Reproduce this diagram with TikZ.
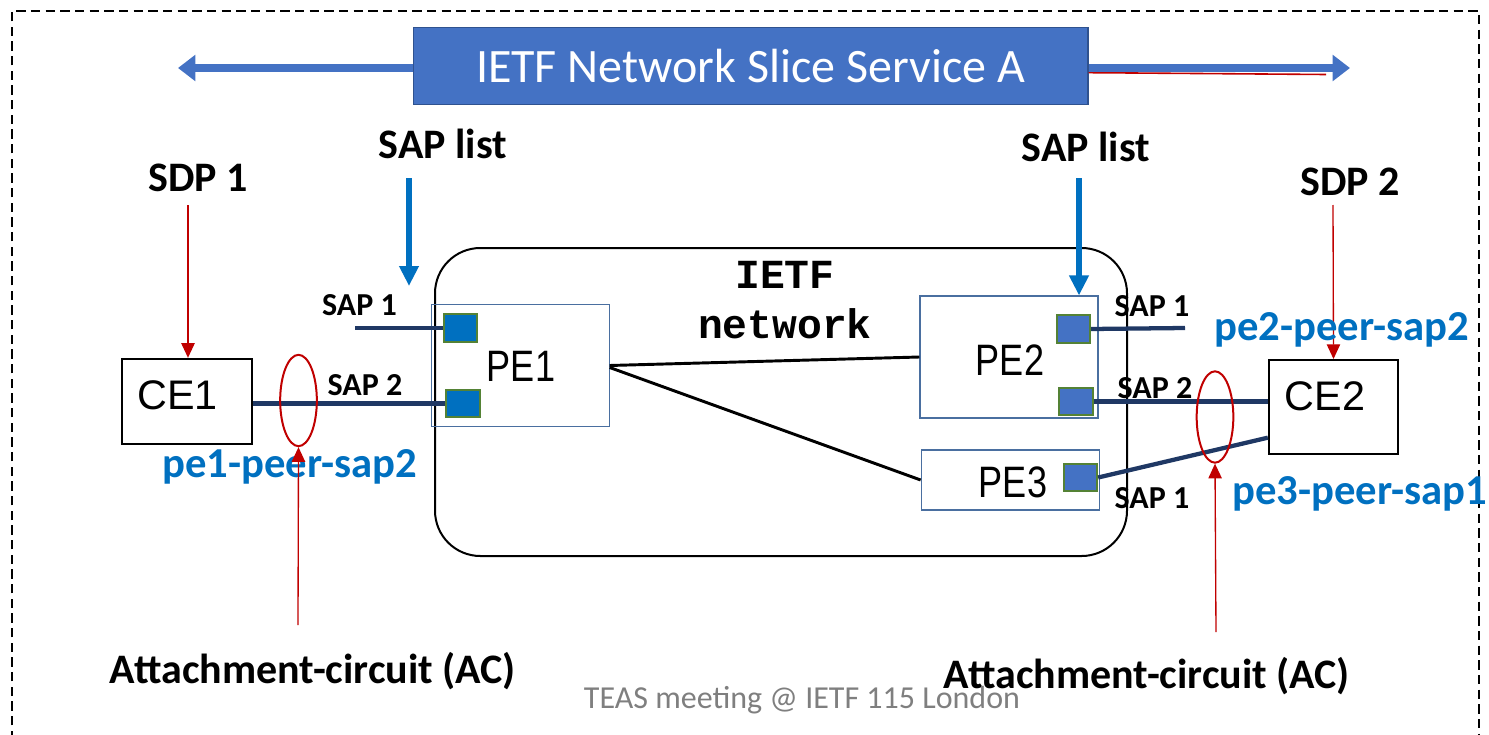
\documentclass[tikz,border=0pt]{standalone}
\usepackage{fontspec}
\setmainfont{Carlito}
\newfontfamily\boxfont{Liberation Sans}
\newfontfamily\pefont[FakeStretch=0.82]{Liberation Sans}
\newfontfamily\netfont{Liberation Mono}
\usetikzlibrary{arrows.meta,shapes.geometric}
\definecolor{banner}{HTML}{4472C4}
\definecolor{bannerline}{HTML}{2F528F}
\definecolor{sapblue}{HTML}{0070C0}
\definecolor{sdpred}{HTML}{C00000}
\definecolor{linkblue}{HTML}{1F3864}
\definecolor{pegrey}{HTML}{4A6FA0}
\definecolor{portgreen}{HTML}{548235}
\definecolor{footer}{HTML}{7F7F7F}
\tikzset{
  frame/.style={draw=black, line width=1.7pt, dash pattern=on 7pt off 4pt},
  slice/.style={fill=banner, draw=bannerline, line width=1pt, text=white,
    minimum width=506pt, minimum height=58pt, font=\fontsize{36}{40}\selectfont},
  wide/.style={draw=banner, line width=6.5pt, -{Triangle[length=13pt,width=19pt]}},
  saplist/.style={draw=sapblue, line width=4pt, -{Triangle[length=15pt,width=14pt]}},
  sdp/.style={draw=sdpred, line width=1pt, -{Triangle[length=11pt,width=10pt]}},
  lbl/.style={font=\bfseries\fontsize{31.5}{35}\selectfont},
  saplbl/.style={font=\bfseries\fontsize{24}{27}\selectfont},
  peer/.style={text=sapblue, font=\bfseries\fontsize{32}{35}\selectfont},
  cebox/.style={draw=black, line width=1.5pt, inner sep=0pt},
  celab/.style={font=\boxfont\fontsize{31}{35}\selectfont},
  pebox/.style={draw=pegrey, line width=0.8pt, inner sep=0pt},
  pelab/.style={font=\pefont\fontsize{33}{36}\selectfont},
  port/.style={draw=portgreen, line width=1.5pt, minimum width=25pt,
    minimum height=20.5pt, inner sep=0pt},
  link/.style={draw=linkblue, line width=3.2pt},
  wire/.style={draw=black, line width=2.2pt},
  net/.style={draw=black, line width=1.5pt, rounded corners=34pt,
    minimum width=519pt, minimum height=231pt},
  netlab/.style={font=\netfont\bfseries\fontsize{31}{37.5}\selectfont, align=center},
  ring/.style={ellipse, draw=sdpred, line width=1.5pt, minimum width=27.5pt,
    minimum height=68.5pt, inner sep=0pt},
}
\begin{document}
\begin{tikzpicture}[x=0.75pt, y=-0.75pt]
  \useasboundingbox (0,0) rectangle (1489,735);
  \draw[frame] (12,740) -- (12,11) -- (1479,11) -- (1479,740);

  % slice banner with its span arrows
  \node[slice] (slice) at (750.5,66) {IETF Network Slice Service A};
  \coordinate (spanl) at (178,68);
  \coordinate (spanr) at (1350,68);
  \draw[wide] ([yshift=-1.5pt]slice.west) -- (spanl);
  \draw[draw=sdpred, line width=1.2pt] ([yshift=-5pt]slice.east) -- (1326,74.5);
  \draw[wide] ([yshift=-1.5pt]slice.east) -- (spanr);

  % provider network
  \node[net] (ietfnet) at (781,402) {};
  \node[netlab] (netname) at (785,300) {IETF\\network};

  \node[pebox, minimum width=133pt, minimum height=92pt] (pe1) at (520.5,365.5) {};
  \node[pelab] at (521,366) {PE1};
  \node[pebox, minimum width=133.5pt, minimum height=91.5pt] (pe2) at (1009,357) {};
  \node[pelab] at (1010,360) {PE2};
  \node[pebox, minimum width=134pt, minimum height=45pt] (pe3) at (1010.5,480) {};
  \node[pelab] at (1013,482) {PE3};

  \node[port, fill=sapblue] (p1a) at (460.5,328) {};
  \node[port, fill=sapblue] (p1b) at (463,403.5) {};
  \node[port, fill=banner] (p2a) at (1073.5,329) {};
  \node[port, fill=banner] (p2b) at (1076,401.5) {};
  \node[port, fill=banner] (p3a) at (1080.5,477.5) {};

  \draw[wire] (pe1.east) -- (pe2.west);
  \draw[wire] ([yshift=-1.5pt]pe1.east) -- (pe3.west);

  % customer edges
  \node[cebox, minimum width=97.5pt, minimum height=64pt] (ce1) at (187,401.5) {};
  \node[celab] at (177.5,395) {CE1};
  \node[cebox, minimum width=97pt, minimum height=70.5pt] (ce2) at (1333.5,407) {};
  \node[celab] at (1325,396) {CE2};

  % attachment circuits
  \coordinate (sap1a) at (355,328);
  \coordinate (sap1b) at (1185,328);
  \draw[link] (sap1a) -- (p1a.west);
  \draw[link] (p1b.west -| ce1.east) -- (p1b.west);
  \draw[link] (p2a.east) -- (sap1b);
  \draw[link] (p2b.east) -- (p2b.east -| ce2.west);
  \draw[link] (p3a.east) -- ([yshift=-23pt]ce2.west);

  \node[saplbl] at (359.5,305) {SAP 1};
  \node[saplbl] at (365,385) {SAP 2};
  \node[saplbl] at (1152,306) {SAP 1};
  \node[saplbl] at (1155,388) {SAP 2};
  \node[saplbl] at (1152,498) {SAP 1};

  \node[ring] (ac1) at (298.5,400.5) {};
  \node[ring] (ac2) at (1215,417) {};

  % top labels and pointers
  \node[lbl] (sdp1) at (198,178) {SDP 1};
  \node[lbl] (sdp2) at (1350,182) {SDP 2};
  \node[lbl] (list1) at (443,144) {SAP list};
  \node[lbl] (list2) at (1086,147) {SAP list};
  \coordinate (sdp1s) at (188,205);
  \coordinate (sdp2s) at (1333,205);
  \draw[sdp] (sdp1s) -- (sdp1s |- ce1.north);
  \draw[sdp] (sdp2s) -- (ce2.north);
  \coordinate (list1s) at (409,178);
  \coordinate (list1e) at (409,286);
  \coordinate (list2s) at (1079,178);
  \draw[saplist] (list1s) -- (list1e);
  \draw[saplist] (list2s) -- (list2s |- pe2.north);

  \node[peer] (peer1) at (290,467) {pe1-peer-sap2};
  \node[peer] (peer2) at (1342,330) {pe2-peer-sap2};
  \node[peer] (peer3) at (1360,494) {pe3-peer-sap1};

  % bottom labels
  \coordinate (ac1s) at (298,625);
  \coordinate (ac2s) at (1216,632);
  \draw[sdp] (ac1s) -- (ac1.south);
  \draw[sdp] (ac2s) -- (ac2.south);
  \node[lbl] (acl) at (313,671) {Attachment-circuit (AC)};
  \node[lbl] (acr) at (1147,676) {Attachment-circuit (AC)};
  \node[text=footer, font=\fontsize{24}{27}\selectfont] (teas) at (802,700)
    {TEAS meeting @ IETF 115 London};
\end{tikzpicture}
\end{document}
